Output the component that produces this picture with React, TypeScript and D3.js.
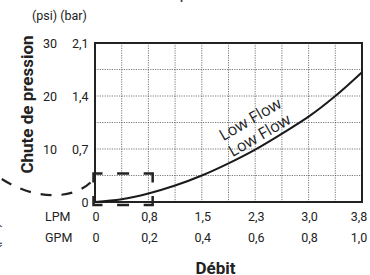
import React from "react";
import * as d3 from "d3";

const gpm = [0, 0.1, 0.2, 0.3, 0.4, 0.5, 0.6, 0.7, 0.8, 0.9, 1.0];
const psi = [0, 0.5, 1.6, 3.1, 5.0, 7.3, 9.9, 12.9, 16.1, 20.0, 24.5];
const gpmTicks = [0, 0.2, 0.4, 0.6, 0.8, 1.0];
const lpmLabels = ["0", "0,8", "1,5", "2,3", "3,0", "3,8"];
const psiTicks = [10, 20, 30];
const barTickPsi = [0, 10, 20, 30];
const barLabels = ["0", "0,7", "1,4", "2,1"];
const seriesLabel = "Low Flow";

const W = 370, H = 275;
const L = 95, R = 362, T = 43, B = 202;

export default function App() {
  const x = d3.scaleLinear().domain([0, 1]).range([L, R]);
  const y = d3.scaleLinear().domain([0, 30]).range([B, T]);
  const line = d3.line<number>().x((_, i) => x(gpm[i])).y((d) => y(d)).curve(d3.curveCatmullRom.alpha(0.5));
  const xGrid = d3.range(1, 10).map((i) => i / 10);
  const yGrid = d3.range(5, 30, 5);
  const fmt = (v: number) => (v === 0 ? "0" : d3.format(".1f")(v).replace(".", ","));

  // callout box around the origin
  const bx0 = x(0) - 1.5, bx1 = x(0.216), by0 = y(5) - 2, by1 = B + 3;
  const leg = 9;
  const midX = (bx0 + bx1) / 2;
  const boxPath = [
    `M${bx0},${by0 + leg}V${by0}H${bx0 + leg}`,
    `M${bx1 - leg},${by0}H${bx1}V${by0 + leg}`,
    `M${bx0},${by1 - leg}V${by1}H${bx0 + leg}`,
    `M${bx1 - leg},${by1}H${bx1}V${by1 - leg}`,
    `M${midX - 6},${by0}H${midX + 6}`,
    `M${midX - 6},${by1}H${midX + 6}`,
  ].join("");
  const arc = `M${bx0 - 3},${by0 + 9} C${72},${200} ${30},${202} ${-8},${172}`;

  const tickFont = { fontFamily: "Roboto, sans-serif", fontSize: 12.5, fill: "#222" } as const;

  return (
    <svg width={W} height={H} style={{ position: "fixed", left: 0, top: 0, background: "#fff" }}>
      <rect width={W} height={H} fill="#fff" />
      <text x={233} y={-1} textAnchor="middle" fontFamily="Roboto, sans-serif" fontWeight="bold" fontSize={12} fill="#444">
        Chute de pression en fonction du débit
      </text>
      {/* grid */}
      {xGrid.map((g) => (
        <line key={"xg" + g} x1={x(g)} x2={x(g)} y1={T} y2={B} stroke="#555" strokeWidth={0.8} strokeDasharray="1.2,1.2" />
      ))}
      {yGrid.map((g) => (
        <line key={"yg" + g} x1={L} x2={R} y1={y(g)} y2={y(g)} stroke="#555" strokeWidth={0.8} strokeDasharray="1.2,1.2" />
      ))}
      <rect x={L} y={T} width={R - L} height={B - T} fill="none" stroke="#222" strokeWidth={2} />
      {/* curve */}
      <path d={line(psi) || ""} fill="none" stroke="#1a1a1a" strokeWidth={2} />
      {/* series labels */}
      <g transform={`translate(${253},${124}) rotate(-30)`}>
        <text x={0} y={0} textAnchor="middle" fontFamily="'Open Sans', sans-serif" fontSize={16} fill="#222">{seriesLabel}</text>
        <text x={0} y={18.5} textAnchor="middle" fontFamily="'Open Sans', sans-serif" fontSize={16} fill="#222">{seriesLabel}</text>
      </g>
      {/* callout */}
      <path d={boxPath} fill="none" stroke="#222" strokeWidth={2.5} />
      <path d={arc} fill="none" stroke="#222" strokeWidth={2.2} strokeDasharray="11,10" />
      {/* y axis labels */}
      <text x={32} y={15.7} dominantBaseline="central" {...tickFont}>(psi) (bar)</text>
      {psiTicks.map((p) => (
        <text key={"p" + p} x={57} y={y(p)} textAnchor="end" dominantBaseline="central" {...tickFont}>{p}</text>
      ))}
      {barTickPsi.map((p, i) => (
        <text key={"b" + p} x={88.5} y={y(p)} textAnchor="end" dominantBaseline="central" {...tickFont}>{barLabels[i]}</text>
      ))}
      <text transform={`translate(32.5,${104.5}) rotate(-90)`} textAnchor="middle" fontFamily="Roboto, sans-serif" fontWeight="bold" fontSize={17} fill="#222">
        Chute de pression
      </text>
      {/* x axis labels */}
      <text x={45} y={216.5} dominantBaseline="central" {...tickFont}>LPM</text>
      <text x={45} y={237} dominantBaseline="central" {...tickFont}>GPM</text>
      {gpmTicks.map((g, i) => (
        <text key={"l" + g} x={Math.min(x(g) + 1, 359)} y={216.5} textAnchor="middle" dominantBaseline="central" {...tickFont}>{lpmLabels[i]}</text>
      ))}
      {gpmTicks.map((g) => (
        <text key={"g" + g} x={Math.min(x(g) + 1, 359)} y={237} textAnchor="middle" dominantBaseline="central" {...tickFont}>{fmt(g)}</text>
      ))}
      <text x={215.5} y={273.5} textAnchor="middle" fontFamily="Roboto, sans-serif" fontWeight="bold" fontSize={17} fill="#222">
        Débit
      </text>
      <text transform={`translate(-1.5,236) rotate(-90)`} textAnchor="middle" fontFamily="Roboto, sans-serif" fontSize={13} fill="#222">(psi)</text>
    </svg>
  );
}
